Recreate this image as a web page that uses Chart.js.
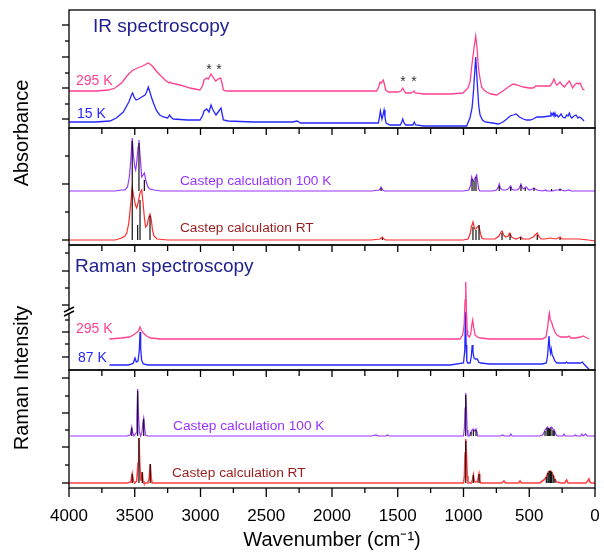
<!DOCTYPE html>
<html><head><meta charset="utf-8">
<script src="https://cdn.jsdelivr.net/npm/chart.js@4.4.1/dist/chart.umd.min.js"></script>
<style>html,body{margin:0;padding:0;background:#fff;}#wrap{position:relative;width:604px;height:552px;}</style>
</head><body><div id="wrap"><canvas id="c" width="604" height="552"></canvas></div>
<script>
const FONT = "'Liberation Sans', Arial, Helvetica, sans-serif";
Chart.defaults.font.family = FONT;

// ---------- axis tick labels ----------
const xTickValues = [4000, 3500, 3000, 2500, 2000, 1500, 1000, 500, 0];
const xTitle = 'Wavenumber (cm\u207B\u00B9)';
const y1Ticks = [9, 24, 40, 55, 71, 87, 103];
const y2Ticks = [5, 33, 61, 89];
const y3Ticks = [13, 26, 38, 50, 65, 82, 99, 117];
const y4Ticks = [5, 23, 41, 58, 75, 92, 110];

// ---------- Panel 1: IR spectra ----------
const ir295Wn = [4000,3800,3700,3650,3600,3560,3523,3480,3440,3397,3375,3360,3330,3308,3270,3240,3232,3225,3156,3080,3004,2985,2973,2953,2940,2920,2905,2885,2865,2847,2835,2826,2800,2550,2243,1900,1700,1660,1645,1635,1625,1610,1600,1592,1570,1500,1475,1462,1450,1440,1400,1385,1376,1368,1300,1100,1004,966,950,938,920,907,897,887,875,862,845,824,790,748,700,660,621,590,545,500,469,450,400,342,325,312,300,291,280,266,250,233,215,195,180,170,155,139,125,114,100,93,80];
const ir295   = [37,37,38,40,45,52,57,60,62,65,63,61,56,53,48,45,46,45,43,40,38,42,48,50,49,54,51,47,49,50,44,38,37,37,37,37,37,37,41,46,45,48,43,38,36,36,37,40,37,35,35,36,37,35,34,34,35,40,46,61,80,92,80,61,50,41,38,36,34,33,37,41,44,43,41,40,40,42,42,42,45,49,45,43,44,46,43,41,44,47,43,40,43,45,44,45,41,39,38];
const ir15Wn = [4000,3800,3688,3640,3587,3545,3525,3516,3505,3490,3470,3447,3422,3410,3397,3385,3371,3355,3333,3310,3283,3250,3235,3225,3207,3100,3004,2985,2973,2953,2935,2920,2905,2882,2860,2844,2835,2826,2790,2600,2300,2265,2240,2000,1700,1647,1640,1632,1620,1612,1604,1597,1589,1560,1480,1470,1462,1452,1440,1385,1374,1365,1300,1100,976,951,935,925,915,907,900,892,884,874,856,836,780,735,700,670,646,620,600,575,545,520,494,470,443,400,342,335,325,318,312,305,300,290,279,270,258,245,228,215,205,195,185,177,160,144,130,119,105,83];
const ir15   = [6,6,7,10,16,26,33,35,31,28,29,31,33,36,41,36,30,24,17,13,11,10,13,11,9,8,8,12,17,19,16,23,18,13,17,20,14,8,7,6,6,7,5,5,5,5,10,17,9,13,18,11,5,3,3,6,9,5,3,3,6,3,2,2,2,10,20,35,55,71,55,38,22,13,8,6,5,4,6,9,12,13,14,11,9,8,8,9,11,11,12,15,13,15,13,15,12,13,11,12,14,11,10,13,12,15,11,10,12,13,10,11,10,7];

// ---------- Panel 2: CASTEP IR ----------
const calcIr100Wn = [4000,3650,3600,3574,3555,3541,3530,3519,3510,3500,3493,3485,3475,3468,3460,3447,3437,3427,3415,3400,3385,3350,3300,1700,1640,1627,1615,1600,1000,960,945,938,930,922,915,908,900,893,885,875,780,750,735,728,720,705,680,660,648,641,633,620,590,575,563,555,545,535,528,520,510,500,475,464,455,440,400,375,365,320,300,275,266,255,230,200,180,150,0];
const calcIr100   = [54,54,55,55,58,68,85,107,90,78,75,82,98,105,90,68,70,72,64,58,56,55,54,54,55,58,55,54,54,55,60,68,65,64,66,68,70,64,56,54,54,55,58,61,57,55,55,56,58,59,56,55,55,57,61,58,56,57,58,58,56,55,56,57,56,55,54,55,54,54,55,55,56,55,54,55,54,54,54];
const calcIrRtWn = [4000,3650,3600,3575,3561,3545,3530,3519,3510,3495,3485,3475,3460,3447,3437,3425,3417,3405,3395,3384,3375,3365,3354,3330,3250,1700,1635,1617,1605,1590,1000,965,950,940,928,915,905,895,882,872,860,845,760,730,715,707,695,680,660,650,646,635,620,600,580,565,550,520,500,470,455,439,425,410,380,340,300,280,266,250,200,120,50,0];
const calcIrRt   = [5,5,7,9,12,22,42,58,50,40,37,42,52,55,42,25,18,20,27,31,26,15,9,6,5,5,6,8,6,5,5,6,11,18,23,16,16,18,19,12,7,6,6,9,13,14,10,8,9,12,12,8,7,6,7,8,6,6,6,8,10,12,8,6,6,7,6,7,8,6,6,6,5,4];
const stickIr100Wn = [3519,3468,3427,1627,935,920,905,728,641,563,530,464,330,266];
const stickIr100H  = [50,48,11,3,12,10,14,5,4,6,3,3,2,2];
const stickIrRtWn  = [3519,3478,3460,3384,1617,928,905,882,707,646,565,439,266];
const stickIrRtH   = [50,15,40,24,2,13,10,15,7,6,3,5,2];

// ---------- Panel 3: Raman spectra ----------
const raman295Wn = [3693,3600,3540,3511,3480,3468,3460,3450,3435,3410,3380,3300,2500,1500,1100,1027,1007,995,988,983,978,972,968,955,945,936,930,922,912,895,870,800,500,400,373,360,350,347,340,330,320,304,290,260,230,210,197,185,150,110,89,75,60,45];
const raman295   = [31,32,33,35,38,40,43,40,37,34,32,31,31,31,31,31,35,45,70,88,60,40,35,33,36,46,50,42,35,33,32,31,31,31,33,43,55,57,50,48,43,38,35,33,33,33,34,32,32,33,34,33,32,31];
const raman87Wn = [3693,3550,3520,3511,3498,3488,3475,3465,3460,3455,3448,3435,3400,2500,1500,1100,1000,990,985,980,975,968,950,940,934,928,920,910,895,885,870,800,500,400,370,360,350,344,338,333,325,317,305,290,250,225,216,208,150,110,95,85,70,55,45];
const raman87   = [5,5,6,7,12,8,9,20,38,22,10,6,5,5,5,5,7,20,58,25,9,7,7,14,25,18,12,11,11,8,7,6,6,6,7,15,34,22,17,21,15,13,9,7,7,7,8,7,7,7,8,6,4,2,1];

// ---------- Panel 4: CASTEP Raman ----------
const ramanCalc100Wn = [3990,3560,3535,3523,3515,3506,3490,3484,3478,3472,3465,3455,3445,3438,3432,3425,3418,3400,1700,1665,1650,1590,1579,1565,1000,993,988,983,978,972,966,955,948,943,935,925,915,905,898,892,720,702,690,650,640,630,420,400,393,380,362,352,342,330,320,310,304,295,285,245,235,225,160,150,140,110,100,90,80,70,60,30,0];
const ramanCalc100   = [52,52,53,61,55,52,55,70,99,75,56,52,56,66,70,60,53,52,52,53,52,52,53,52,52,60,80,95,80,58,52,52,55,56,58,59,57,59,56,52,52,53,52,52,54,52,52,53,54,58,61,59,60,61,59,58,56,53,52,52,54,52,52,53,52,52,54,52,53,54,52,52,52];
const ramanCalcRtWn = [4000,3560,3530,3519,3510,3500,3485,3475,3468,3462,3455,3448,3443,3437,3430,3400,3390,3382,3375,3368,1700,1000,993,988,983,978,972,966,940,932,925,918,912,895,888,882,876,870,710,692,680,580,570,560,420,400,380,365,355,340,330,318,304,290,260,230,216,205,180,140,120,90,70,55,46,38,30,0];
const ramanCalcRt   = [5,5,6,14,7,5,7,25,50,25,8,8,16,7,5,5,10,24,10,5,5,5,12,35,49,35,12,5,5,8,13,7,6,6,10,14,8,5,5,7,5,5,7,5,5,7,9,13,16,17,16,13,8,6,5,5,8,5,5,5,5,5,5,7,9,6,5,5];
const stickRa100Wn = [3523,3478,3432,983,943,925,905,380,365,355,345,335,320,310];
const stickRa100H  = [8,45,17,41,4,6,6,5,8,8,7,8,6,5];
const stickRaRtWn  = [3519,3468,3443,3382,983,925,882,370,358,348,338,330,318,305];
const stickRaRtH   = [9,45,11,19,42,8,9,6,10,12,12,11,8,4];

// ---------- annotations (text, wavenumber, value, axis) ----------
const NAVY = '#202090', PINK = '#ff3f8f', BLUE = '#2626ff', PURPLE = '#9933ff', RED = '#ff2a2a', DRED = '#9a1c1c';
const labels = [
  {t:'IR spectroscopy', wn:3817, v:101.3, ax:'y1', c:NAVY, s:19},
  {t:'295 K', wn:3947, v:47, ax:'y1', c:PINK, s:14},
  {t:'15 K', wn:3939, v:14.2, ax:'y1', c:BLUE, s:14},
  {t:'Castep calculation 100 K', wn:3156, v:63.3, ax:'y2', c:PURPLE, s:13.7},
  {t:'Castep calculation RT', wn:3156, v:17, ax:'y2', c:DRED, s:13.7},
  {t:'Raman spectroscopy', wn:3954, v:103.3, ax:'y3', c:NAVY, s:19},
  {t:'295 K', wn:3947, v:41, ax:'y3', c:PINK, s:14},
  {t:'87 K', wn:3932, v:11.7, ax:'y3', c:BLUE, s:14},
  {t:'Castep calculation 100 K', wn:3209, v:61.7, ax:'y4', c:PURPLE, s:13.7},
  {t:'Castep calculation RT', wn:3217, v:14.7, ax:'y4', c:DRED, s:13.7}
];
const stars = [
  {wn:2935, v:58.3, ax:'y1'}, {wn:2859, v:58.3, ax:'y1'},
  {wn:1460, v:45.7, ax:'y1'}, {wn:1376, v:45.7, ax:'y1'}
];

function toPts(wn, v) { return wn.map((x, i) => ({x: x, y: v[i]})); }
function toSticks(wn, h, base) {
  const out = [];
  wn.forEach((x, i) => { out.push({x: x, y: base}, {x: x, y: base + h[i]}, {x: x, y: null}); });
  return out;
}
function ds(data, color, axis, width) {
  return {data: data, borderColor: color, backgroundColor: color, borderWidth: width, pointRadius: 0,
    tension: 0, yAxisID: axis, spanGaps: false, fill: false};
}
function yAx(w, max, weight) {
  return {type: 'linear', position: 'left', stack: 'panels', stackWeight: w, weight: weight, min: 0, max: max,
    offset: false, ticks: {display: false}, grid: {display: false, drawTicks: false}, border: {display: false}};
}

const framePlugin = {
  id: 'frame',
  afterDraw(chart) {
    const ctx = chart.ctx, ca = chart.chartArea, xs = chart.scales.x;
    const panels = [{id: 'y1', t: y1Ticks}, {id: 'y2', t: y2Ticks}, {id: 'y3', t: y3Ticks}, {id: 'y4', t: y4Ticks}];
    ctx.save();
    ctx.strokeStyle = '#000'; ctx.lineWidth = 1.3; ctx.lineCap = 'butt';
    const line = (x1, y1, x2, y2) => { ctx.beginPath(); ctx.moveTo(x1, y1); ctx.lineTo(x2, y2); ctx.stroke(); };
    panels.forEach((p, i) => {
      const s = chart.scales[p.id];
      ctx.strokeRect(ca.left, s.top, ca.right - ca.left, s.bottom - s.top);
      p.t.forEach((v, k) => {
        const y = s.getPixelForValue(v);
        const len = (k % 2 === 0) ? 7 : 4;
        line(ca.left - len, y, ca.left, y);
      });
      if (i > 0) {
        for (let w = 250; w < 4000; w += 250) {
          const x = xs.getPixelForValue(w);
          line(x, s.top, x, s.top + (w % 500 === 0 ? 7 : 6));
        }
      }
    });
    for (let w = 0; w <= 4000; w += 250) {
      const x = xs.getPixelForValue(w);
      line(x, ca.bottom, x, ca.bottom + (w % 500 === 0 ? 9 : 5));
    }
    // axis break mark on the Raman panel
    const s3 = chart.scales.y3;
    const yb = s3.getPixelForValue(59);
    ctx.fillStyle = '#fff';
    ctx.fillRect(ca.left - 2, yb - 2, 4, 4);
    ctx.lineWidth = 1.4;
    line(ca.left - 5, yb + 1, ca.left + 5, yb - 4);
    line(ca.left - 5, yb + 5, ca.left + 5, yb);
    // text annotations
    ctx.textBaseline = 'middle';
    labels.forEach(L => {
      ctx.fillStyle = L.c; ctx.font = L.s + 'px ' + FONT; ctx.textAlign = 'left';
      ctx.fillText(L.t, xs.getPixelForValue(L.wn), chart.scales[L.ax].getPixelForValue(L.v));
    });
    ctx.fillStyle = '#333'; ctx.font = '14px ' + FONT; ctx.textAlign = 'center';
    stars.forEach(S => ctx.fillText('*', xs.getPixelForValue(S.wn), chart.scales[S.ax].getPixelForValue(S.v)));
    // y-axis titles
    ctx.fillStyle = '#000'; ctx.font = '20px ' + FONT; ctx.textAlign = 'center';
    ctx.save(); ctx.translate(22, chart.scales.y2.top + 5); ctx.rotate(-Math.PI / 2);
    ctx.fillText('Absorbance', 0, 0); ctx.restore();
    ctx.save(); ctx.translate(22, chart.scales.y4.top + 8); ctx.rotate(-Math.PI / 2);
    ctx.fillText('Raman Intensity', 0, 0); ctx.restore();
    ctx.restore();
  }
};

new Chart(document.getElementById('c'), {
  type: 'line',
  data: {
    datasets: [
      ds(toSticks(stickIr100Wn, stickIr100H, 54), '#111', 'y2', 1.2),
      ds(toSticks(stickIrRtWn, stickIrRtH, 5), '#111', 'y2', 1.2),
      ds(toSticks(stickRa100Wn, stickRa100H, 52), '#111', 'y4', 1.2),
      ds(toSticks(stickRaRtWn, stickRaRtH, 5), '#111', 'y4', 1.2),
      ds(toPts(ir295Wn, ir295), PINK, 'y1', 1.3),
      ds(toPts(ir15Wn, ir15), BLUE, 'y1', 1.3),
      ds(toPts(calcIr100Wn, calcIr100), PURPLE, 'y2', 1.2),
      ds(toPts(calcIrRtWn, calcIrRt), RED, 'y2', 1.2),
      ds(toPts(raman295Wn, raman295), PINK, 'y3', 1.3),
      ds(toPts(raman87Wn, raman87), BLUE, 'y3', 1.3),
      ds(toPts(ramanCalc100Wn, ramanCalc100), PURPLE, 'y4', 1.2),
      ds(toPts(ramanCalcRtWn, ramanCalcRt), '#ff4040', 'y4', 1.6)
    ]
  },
  options: {
    responsive: false, animation: false, devicePixelRatio: 1,
    layout: {padding: {left: 69, right: 9, top: 10, bottom: 0}},
    plugins: {legend: {display: false}, tooltip: {enabled: false}},
    scales: {
      x: {type: 'linear', position: 'bottom', reverse: true, min: 0, max: 4000,
        afterBuildTicks: s => { s.ticks = xTickValues.map(v => ({value: v})); },
        ticks: {font: {size: 17}, color: '#000', padding: 18, maxRotation: 0, autoSkip: false, callback: v => String(v)},
        grid: {display: false, drawTicks: false}, border: {display: false},
        title: {display: true, text: xTitle, font: {size: 20}, color: '#000', padding: {top: 0, bottom: 0}},
        afterFit: s => { s.height = 64; s.paddingLeft = 0; s.paddingRight = 0; }},
      y1: yAx(118, 118, 4),
      y2: yAx(117, 117, 3),
      y3: yAx(125, 125, 2),
      y4: yAx(118, 118, 1)
    }
  },
  plugins: [framePlugin]
});
</script></body></html>
